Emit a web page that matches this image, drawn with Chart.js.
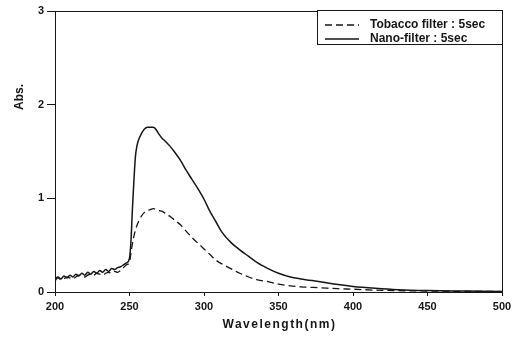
<!DOCTYPE html>
<html>
<head>
<meta charset="utf-8">
<script src="https://cdn.jsdelivr.net/npm/chart.js@4.4.1/dist/chart.umd.min.js"></script>
<style>
  html, body { margin: 0; padding: 0; background: #fff; }
  #wrap { width: 520px; height: 341px; }
</style>
</head>
<body>
<div id="wrap"><canvas id="absChart" width="520" height="341"></canvas></div>
<script>
// wavelengths (nm)
const wavelengths = [
  200, 202, 204, 206, 208, 210, 212, 214, 216, 218, 220, 222, 224, 226, 228,
  230, 232, 234, 236, 238, 240, 242, 244, 246, 248,
  250, 251, 252, 253, 254, 255, 256, 258, 260, 262, 264, 266, 268, 270, 272,
  274, 277, 280, 284, 288, 292, 296, 300, 304, 308, 312, 318, 324, 330, 336,
  343, 350, 358, 365, 378, 390, 400, 415, 430, 450, 475, 500
];

// Nano-filter : 5sec (solid)
const nanoFilter = [
  0.14, 0.16, 0.14, 0.17, 0.15, 0.18, 0.16, 0.19, 0.17, 0.20, 0.18, 0.21, 0.19, 0.22, 0.20,
  0.23, 0.21, 0.24, 0.22, 0.25, 0.24, 0.26, 0.27, 0.29, 0.31,
  0.36, 0.55, 0.90, 1.20, 1.45, 1.56, 1.62, 1.69, 1.74, 1.76, 1.76, 1.76, 1.73, 1.68, 1.64,
  1.61, 1.56, 1.50, 1.41, 1.30, 1.20, 1.10, 0.99, 0.86, 0.75, 0.64, 0.53, 0.45, 0.38, 0.31,
  0.25, 0.20, 0.16, 0.14, 0.11, 0.08, 0.06, 0.04, 0.025, 0.015, 0.01, 0.005
];

// Tobacco filter : 5sec (dashed)
const tobaccoFilter = [
  0.12, 0.15, 0.13, 0.14, 0.16, 0.15, 0.14, 0.16, 0.18, 0.17, 0.16, 0.18, 0.19, 0.18, 0.20,
  0.19, 0.18, 0.20, 0.21, 0.20, 0.22, 0.21, 0.23, 0.26, 0.29,
  0.32, 0.42, 0.52, 0.60, 0.66, 0.71, 0.75, 0.81, 0.85, 0.87, 0.88, 0.89, 0.88, 0.87, 0.86,
  0.84, 0.81, 0.77, 0.72, 0.65, 0.58, 0.52, 0.46, 0.40, 0.34, 0.30, 0.25, 0.20, 0.16, 0.13,
  0.11, 0.085, 0.065, 0.055, 0.045, 0.035, 0.03, 0.02, 0.015, 0.01, 0.007, 0.005
];

const xTicks = [200, 250, 300, 350, 400, 450, 500];
const yTicks = [0, 1, 2, 3];

const toPoints = vals => vals.map((v, i) => ({ x: wavelengths[i], y: v }));

const ink = '#161616';

// frame, axis titles and the boxed legend
const decor = {
  id: 'decor',
  afterDatasetsDraw(chart) {
    const { ctx, chartArea: a } = chart;
    ctx.save();
    ctx.strokeStyle = ink;
    ctx.lineWidth = 1;
    ctx.strokeRect(a.left + 0.5, a.top + 0.5, a.right - a.left, a.bottom - a.top);

    // legend
    const lx = 317, ly = 10, lw = 185, lh = 34;
    ctx.fillStyle = '#fff';
    ctx.fillRect(lx, ly, lw, lh);
    ctx.strokeRect(lx + 0.5, ly + 0.5, lw, lh);
    ctx.font = 'bold 12px "Liberation Sans", Arial, sans-serif';
    ctx.textBaseline = 'middle';
    ctx.textAlign = 'left';
    const rows = [chart.data.datasets[1], chart.data.datasets[0]];
    rows.forEach((ds, i) => {
      const y = 25 + i * 14;
      ctx.beginPath();
      ctx.setLineDash(ds.borderDash || []);
      ctx.lineWidth = ds.borderWidth;
      ctx.moveTo(325, y);
      ctx.lineTo(359, y);
      ctx.stroke();
      ctx.setLineDash([]);
      ctx.fillStyle = ink;
      ctx.fillText(ds.label, 370, y);
    });

    // axis titles
    ctx.font = 'bold 12px "Liberation Sans", Arial, sans-serif';
    ctx.textAlign = 'center';
    ctx.fillStyle = ink;
    ctx.letterSpacing = '1.5px';
    ctx.fillText('Wavelength(nm)', (a.left + a.right) / 2 + 1, 325);
    ctx.letterSpacing = '0px';
    ctx.translate(20, 97);
    ctx.rotate(-Math.PI / 2);
    ctx.fillText('Abs.', 0, 0);
    ctx.restore();
  }
};

new Chart(document.getElementById('absChart').getContext('2d'), {
  type: 'line',
  data: {
    datasets: [
      {
        label: 'Nano-filter : 5sec',
        data: toPoints(nanoFilter),
        borderColor: ink,
        borderWidth: 1.5,
        pointRadius: 0,
        cubicInterpolationMode: 'monotone'
      },
      {
        label: 'Tobacco filter : 5sec',
        data: toPoints(tobaccoFilter),
        borderColor: ink,
        borderWidth: 1.3,
        borderDash: [7, 4],
        pointRadius: 0,
        cubicInterpolationMode: 'monotone'
      }
    ]
  },
  options: {
    responsive: false,
    animation: false,
    layout: { padding: { top: 11, right: 18, left: 0, bottom: 0 } },
    plugins: { legend: { display: false }, tooltip: { enabled: false } },
    scales: {
      x: {
        type: 'linear',
        min: 200,
        max: 500,
        afterBuildTicks: s => { s.ticks = xTicks.map(v => ({ value: v })); },
        afterFit: s => { s.height = 49; },
        ticks: {
          color: ink,
          padding: 4,
          maxRotation: 0,
          font: { family: '"Liberation Sans", Arial, sans-serif', size: 11, weight: 'bold' }
        },
        grid: { drawOnChartArea: false, tickLength: 4, color: ink },
        border: { color: ink }
      },
      y: {
        min: 0,
        max: 3,
        afterBuildTicks: s => { s.ticks = yTicks.map(v => ({ value: v })); },
        afterFit: s => { s.width = 55; },
        ticks: {
          color: ink,
          padding: 3,
          font: { family: '"Liberation Sans", Arial, sans-serif', size: 11, weight: 'bold' }
        },
        grid: { drawOnChartArea: false, tickLength: 8, color: ink },
        border: { color: ink }
      }
    }
  },
  plugins: [decor]
});
</script>
</body>
</html>
